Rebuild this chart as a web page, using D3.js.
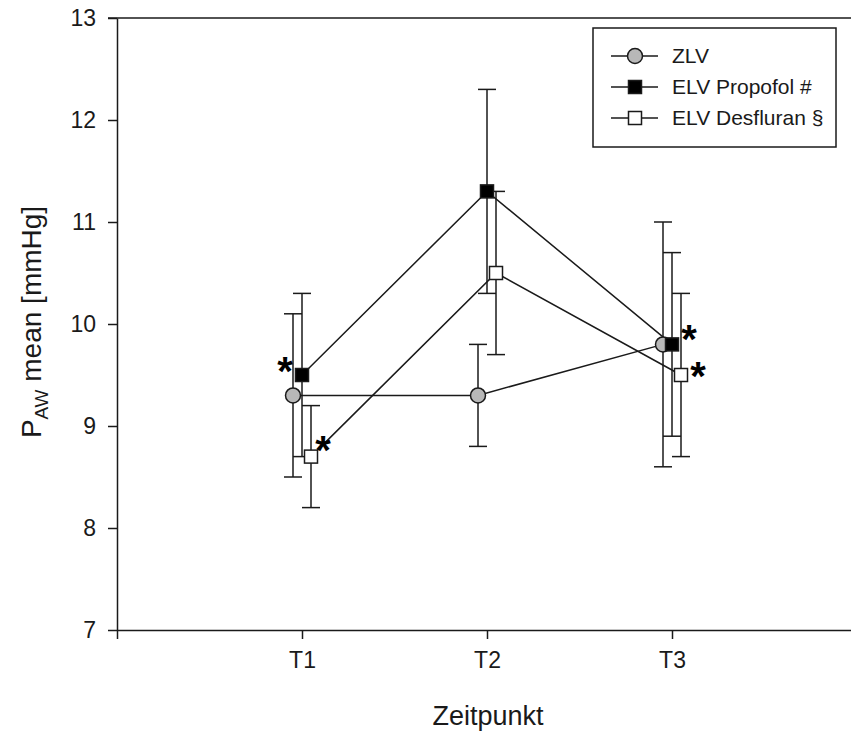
<!DOCTYPE html>
<html>
<head>
<meta charset="utf-8">
<script src="https://cdn.jsdelivr.net/npm/d3@7"></script>
<style>
  body { margin: 0; background: #fff; }
  svg { display: block; font-family: "Liberation Sans", Arial, sans-serif; }
</style>
</head>
<body>
<svg width="851" height="734"></svg>
<script>
// Zeitpunkte und Messwerte (Mittelwert +/- SD)
var timepoints = ["T1", "T2", "T3"];
var seriesNames = ["ZLV", "ELV Propofol #", "ELV Desfluran §"];
var zlvMean = [9.3, 9.3, 9.8];
var zlvSD = [0.8, 0.5, 1.2];
var propMean = [9.5, 11.3, 9.8];
var propSD = [0.8, 1.0, 0.9];
var desMean = [8.7, 10.5, 9.5];
var desSD = [0.5, 0.8, 0.8];
var yTicks = [7, 8, 9, 10, 11, 12, 13];
// Signifikanz-Sterne: [Serie, Zeitpunkt-Index, dx, dy]
var stars = [[1, 0, -17, -13], [2, 0, 12, -16], [1, 2, 17, -14], [2, 2, 17, -8]];

var series = [
  {name: seriesNames[0], mean: zlvMean, sd: zlvSD, shape: "circle", fill: "#b8b8b8", dx: -9},
  {name: seriesNames[1], mean: propMean, sd: propSD, shape: "square", fill: "#000", dx: 0},
  {name: seriesNames[2], mean: desMean, sd: desSD, shape: "square", fill: "#fff", dx: 9}
];

var svg = d3.select("svg");
var ink = "#1a1a1a";

var x = d3.scaleLinear().domain([0, 4]).range([117, 857]);
var y = d3.scaleLinear().domain([7, 13]).range([630, 18]);

// Achsen
var gy = svg.append("g")
    .attr("transform", "translate(117,0)")
    .call(d3.axisLeft(y).tickValues(yTicks).tickFormat(d3.format("d"))
      .tickSize(9).tickPadding(12).tickSizeOuter(0));
gy.selectAll("text").attr("fill", ink)
    .style("font-size", "23px").style("font-family", "Liberation Sans");
gy.selectAll("line, path").attr("stroke", ink).attr("stroke-width", 1.5);

var gx = svg.append("g")
    .attr("transform", "translate(0,630)")
    .call(d3.axisBottom(x).tickValues([0, 1, 2, 3])
      .tickFormat(function(d) { return d === 0 ? "" : timepoints[d - 1]; })
      .tickSize(9).tickPadding(13).tickSizeOuter(0));
gx.selectAll("text").attr("fill", ink)
    .style("font-size", "23px").style("font-family", "Liberation Sans");
gx.selectAll("line, path").attr("stroke", ink).attr("stroke-width", 1.5);

// obere Rahmenlinie
svg.append("line")
    .attr("x1", 108).attr("x2", 851)
    .attr("y1", y(13)).attr("y2", y(13))
    .attr("stroke", ink).attr("stroke-width", 1.5);

// Achsentitel
svg.append("text")
    .attr("x", 488).attr("y", 725)
    .attr("text-anchor", "middle")
    .style("font-size", "27px").attr("fill", ink)
    .text("Zeitpunkt");

var yt = svg.append("text")
    .attr("transform", "translate(41,322) rotate(-90)")
    .attr("text-anchor", "middle")
    .style("font-size", "28px").attr("fill", ink);
yt.append("tspan").text("P");
yt.append("tspan").style("font-size", "19px").attr("dy", 7).text("AW");
yt.append("tspan").attr("dy", -7).text(" mean [mmHg]");

var line = d3.line()
    .x(function(d) { return d.x; })
    .y(function(d) { return d.y; });

function pts(s) {
  return s.mean.map(function(m, i) {
    return {x: x(i + 1) + s.dx, y: y(m), m: m, sd: s.sd[i]};
  });
}

// Verbindungslinien
series.forEach(function(s) {
  svg.append("path")
      .attr("d", line(pts(s)))
      .attr("fill", "none")
      .attr("stroke", ink)
      .attr("stroke-width", 1.5);
});

// Fehlerbalken
series.forEach(function(s) {
  var g = svg.append("g").attr("stroke", ink).attr("stroke-width", 1.5);
  pts(s).forEach(function(p) {
    g.append("line").attr("x1", p.x).attr("x2", p.x)
      .attr("y1", y(p.m + p.sd)).attr("y2", y(p.m - p.sd));
    [p.m + p.sd, p.m - p.sd].forEach(function(v) {
      g.append("line").attr("x1", p.x - 9).attr("x2", p.x + 9)
        .attr("y1", y(v)).attr("y2", y(v));
    });
  });
});

function marker(g, s, cx, cy) {
  if (s.shape === "circle") {
    g.append("circle").attr("cx", cx).attr("cy", cy).attr("r", 7.5)
      .attr("fill", s.fill).attr("stroke", ink).attr("stroke-width", 1.5);
  } else {
    g.append("rect").attr("x", cx - 6.5).attr("y", cy - 6.5)
      .attr("width", 13).attr("height", 13)
      .attr("fill", s.fill).attr("stroke", ink).attr("stroke-width", 1.5);
  }
}

// Symbole
series.forEach(function(s) {
  var g = svg.append("g");
  pts(s).forEach(function(p) { marker(g, s, p.x, p.y); });
});

// Sterne
stars.forEach(function(st) {
  var s = series[st[0]];
  var i = st[1];
  var px = x(i + 1) + s.dx + st[2];
  var py = y(s.mean[i]) + st[3];
  svg.append("text")
      .attr("x", px).attr("y", py + 23)
      .attr("text-anchor", "middle")
      .style("font-size", "40px").attr("font-weight", "bold").attr("fill", "#000")
      .text("*");
});

// Legende
var leg = svg.append("g");
leg.append("rect")
    .attr("x", 593).attr("y", 28).attr("width", 243).attr("height", 119)
    .attr("fill", "#fff").attr("stroke", ink).attr("stroke-width", 1.5);
series.forEach(function(s, i) {
  var ly = 56 + i * 31;
  leg.append("line").attr("x1", 611).attr("x2", 658)
    .attr("y1", ly).attr("y2", ly)
    .attr("stroke", ink).attr("stroke-width", 1.5);
  marker(leg, s, 635, ly);
  leg.append("text")
    .attr("x", 672).attr("y", ly + 7)
    .style("font-size", "21px").attr("fill", ink)
    .text(s.name);
});
</script>
</body>
</html>
